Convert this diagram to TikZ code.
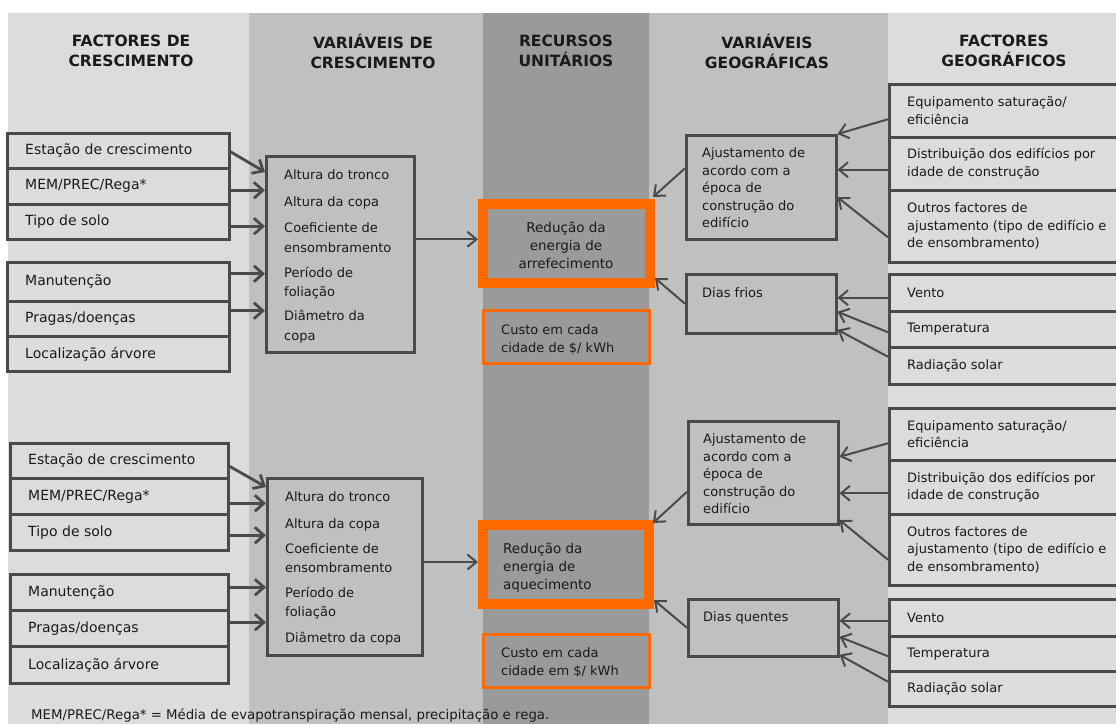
\documentclass[tikz,border=0pt]{standalone}
\usepackage{fontspec}
\setmainfont{DejaVu Sans}
\usetikzlibrary{arrows.meta,calc}
\definecolor{bandL}{HTML}{DCDCDC}
\definecolor{bandM}{HTML}{C0C0C0}
\definecolor{bandD}{HTML}{9A9A9A}
\definecolor{edge}{HTML}{4A4A4A}
\definecolor{orng}{HTML}{FF6A00}
\definecolor{ink}{HTML}{1A1A1A}
\tikzset{
 box/.style={draw=edge, line width=2.5pt, rectangle, inner sep=0pt, anchor=north west},
 lbox/.style={box, fill=bandL},
 mbox/.style={box, fill=bandM},
 obig/.style={draw=orng, line width=10pt, fill=bandD, rectangle, inner sep=0pt, anchor=north west},
 osmall/.style={draw=orng, line width=2.5pt, fill=bandD, rectangle, inner sep=0pt, anchor=north west},
 txt/.style={inner sep=0pt, align=left, text=ink, font=\fontsize{13}{17.5}\selectfont},
 ltxt/.style={txt, font=\fontsize{14}{17.5}\selectfont},
 hdr/.style={inner sep=0pt, align=center, text=ink, font=\bfseries\fontsize{15.5}{20}\selectfont},
 thickarr/.style={draw=edge, line width=2.8pt, -{Straight Barb[length=9pt,width=16pt]}},
 thinarr/.style={draw=edge, line width=2pt, -{Straight Barb[length=9pt,width=15pt]}},
}
\newcommand\rowbox[8]{%
 \node[#1, minimum width=#5pt, minimum height=#6pt] (#2) at (#3,#4) {};
 \node[#7, anchor=west] (#2t) at ([xshift=19pt]#2.west) {#8};}
\begin{document}
\begin{tikzpicture}[x=1pt,y=-1pt]
\useasboundingbox (0,0) rectangle (1116,724);
% bands
\fill[bandL] (8,13) rectangle (249,724);
\fill[bandM] (249,13) rectangle (483,724);
\fill[bandD] (483,13) rectangle (649,724);
\fill[bandM] (649,13) rectangle (888,724);
\fill[bandL] (888,13) rectangle (1116,724);
% headers
\node[hdr] (h1) at (131,51) {FACTORES DE\\CRESCIMENTO};
\node[hdr] (h2) at (373,51) {VARIÁVEIS DE\\CRESCIMENTO};
\node[hdr] (h3) at (566,51) {RECURSOS\\UNITÁRIOS};
\node[hdr] (h4) at (767,51) {VARIÁVEIS\\GEOGRÁFICAS};
\node[hdr] (h5) at (1004,51) {FACTORES\\GEOGRÁFICOS};
% ---------- top half ----------
\rowbox{lbox}{la1}{6}{132}{222}{35}{ltxt}{Estação de crescimento}
\rowbox{lbox}{la2}{6}{167}{222}{36}{ltxt}{MEM/PREC/Rega*}
\rowbox{lbox}{la3}{6}{203}{222}{35}{ltxt}{Tipo de solo}
\rowbox{lbox}{lb1}{6}{261}{222}{39}{ltxt}{Manutenção}
\rowbox{lbox}{lb2}{6}{300}{222}{35}{ltxt}{Pragas/doenças}
\rowbox{lbox}{lb3}{6}{335}{222}{35}{ltxt}{Localização árvore}
\node[mbox, minimum width=148pt, minimum height=196pt] (m1) at (265,155) {};
\node[txt, anchor=north west, font=\fontsize{13}{19.5}\selectfont] (m1t) at (284,169.5)
 {Altura do tronco\\[7.5pt]Altura da copa\\[6.5pt]Coeficiente de\\ensombramento\\[5.5pt]Período de\\foliação\\[4.5pt]Diâmetro da\\copa};
\node[obig, minimum width=167pt, minimum height=79pt] (or1) at (478,199) {};
\node[txt, align=center, font=\fontsize{13.5}{18}\selectfont] (or1t) at (566,245) {Redução da\\energia de\\arrefecimento};
\node[osmall, minimum width=166pt, minimum height=53pt] (cs1) at (482,309) {};
\node[txt, anchor=north west] (cs1t) at (501,324.5) {Custo em cada\\cidade de \$/ kWh};
\node[mbox, minimum width=150pt, minimum height=104pt] (aj1) at (685,134) {};
\node[txt, anchor=north west] (aj1t) at (702,147.5) {Ajustamento de\\acordo com a\\época de\\construção do\\edifício};
\node[mbox, minimum width=150pt, minimum height=59pt] (df1) at (685,273) {};
\node[txt, anchor=north west] (df1t) at (702,287.5) {Dias frios};
\rowbox{lbox}{ra1}{888}{83}{240}{53}{txt}{Equipamento saturação/\\eficiência}
\rowbox{lbox}{ra2}{888}{136}{240}{53}{txt}{Distribuição dos edifícios por\\idade de construção}
\rowbox{lbox}{ra3}{888}{189}{240}{72}{txt}{Outros factores de\\ajustamento (tipo de edifício e\\de ensombramento)}
\rowbox{lbox}{rb1}{888}{273}{240}{37}{txt}{Vento}
\rowbox{lbox}{rb2}{888}{310}{240}{36}{txt}{Temperatura}
\rowbox{lbox}{rb3}{888}{346}{240}{37}{txt}{Radiação solar}
% top arrows
\draw[thickarr] ([yshift=-1pt]la1.east) -- ([yshift=-17pt]m1.north west);
\coordinate (s2) at ([yshift=-4pt]la2.east);
\draw[thickarr] (s2) -- (s2 -| m1.west);
\coordinate (s3) at ([yshift=-4.5pt]la3.east);
\draw[thickarr] (s3) -- (s3 -| m1.west);
\coordinate (s4) at ([yshift=8pt]lb1.east);
\draw[thickarr] (s4) -- (s4 -| m1.west);
\coordinate (s5) at ([yshift=8pt]lb2.east);
\draw[thickarr] (s5) -- (s5 -| m1.west);
\coordinate (s6) at ([yshift=15pt]m1.east);
\draw[thinarr] (s6) -- (s6 -| or1.west);
\draw[thinarr] ([yshift=-8.5pt]ra1.west) -- (aj1.north east);
\coordinate (t2) at ([yshift=-6pt]ra2.west);
\draw[thinarr] (t2) -- (t2 -| aj1.east);
\draw[thinarr] ([yshift=-11pt]ra3.west) -- ([yshift=-10pt]aj1.east);
\coordinate (t4) at ([yshift=-5pt]rb1.west);
\draw[thinarr] (t4) -- (t4 -| df1.east);
\draw[thinarr] ([yshift=-3pt]rb2.west) -- ([yshift=-8pt]df1.east);
\draw[thinarr] ([yshift=9pt]rb3.west) -- ([yshift=-26pt]df1.east);
\draw[thinarr] ([yshift=19pt]aj1.west) -- ([xshift=-2pt,yshift=2pt]or1.north east);
\draw[thinarr] (df1.west) -- ([yshift=-34.5pt]or1.east);
% ---------- bottom half ----------
\rowbox{lbox}{lc1}{9}{442}{218}{35}{ltxt}{Estação de crescimento}
\rowbox{lbox}{lc2}{9}{477}{218}{36}{ltxt}{MEM/PREC/Rega*}
\rowbox{lbox}{lc3}{9}{513}{218}{36}{ltxt}{Tipo de solo}
\rowbox{lbox}{ld1}{9}{573}{218}{36}{ltxt}{Manutenção}
\rowbox{lbox}{ld2}{9}{609}{218}{36}{ltxt}{Pragas/doenças}
\rowbox{lbox}{ld3}{9}{645}{218}{37}{ltxt}{Localização árvore}
\node[mbox, minimum width=155pt, minimum height=177pt] (m2) at (266,477) {};
\node[txt, anchor=north west, font=\fontsize{13}{19}\selectfont] (m2t) at (285,491.5)
 {Altura do tronco\\[8pt]Altura da copa\\[6pt]Coeficiente de\\ensombramento\\[6pt]Período de\\foliação\\[7pt]Diâmetro da copa};
\node[obig, minimum width=166pt, minimum height=79pt] (or2) at (478,520) {};
\node[txt, anchor=north west, font=\fontsize{13.5}{18}\selectfont] (or2t) at (503,542.5) {Redução da\\energia de\\aquecimento};
\node[osmall, minimum width=166pt, minimum height=53pt] (cs2) at (482,633) {};
\node[txt, anchor=north west] (cs2t) at (501,647.5) {Custo em cada\\cidade em \$/ kWh};
\node[mbox, minimum width=150pt, minimum height=103pt] (aj2) at (687,420) {};
\node[txt, anchor=north west] (aj2t) at (703,433.5) {Ajustamento de\\acordo com a\\época de\\construção do\\edifício};
\node[mbox, minimum width=150pt, minimum height=57pt] (dq2) at (687,598) {};
\node[txt, anchor=north west] (dq2t) at (703,611.5) {Dias quentes};
\rowbox{lbox}{rc1}{888}{407}{240}{52}{txt}{Equipamento saturação/\\eficiência}
\rowbox{lbox}{rc2}{888}{459}{240}{54}{txt}{Distribuição dos edifícios por\\idade de construção}
\rowbox{lbox}{rc3}{888}{513}{240}{71}{txt}{Outros factores de\\ajustamento (tipo de edifício e\\de ensombramento)}
\rowbox{lbox}{rd1}{888}{598}{240}{37}{txt}{Vento}
\rowbox{lbox}{rd2}{888}{635}{240}{35}{txt}{Temperatura}
\rowbox{lbox}{rd3}{888}{670}{240}{35}{txt}{Radiação solar}
% bottom arrows
\draw[thickarr] ([yshift=-5.5pt]lc1.east) -- ([yshift=-10pt]m2.north west);
\coordinate (u2) at ([yshift=-7pt]lc2.east);
\draw[thickarr] (u2) -- (u2 -| m2.west);
\coordinate (u3) at ([yshift=-3pt]lc3.east);
\draw[thickarr] (u3) -- (u3 -| m2.west);
\coordinate (u4) at ([yshift=5pt]ld1.east);
\draw[thickarr] (u4) -- (u4 -| m2.west);
\coordinate (u5) at ([yshift=6pt]ld2.east);
\draw[thickarr] (u5) -- (u5 -| m2.west);
\coordinate (u6) at ([yshift=4.75pt]m2.east);
\draw[thinarr] (u6) -- (u6 -| or2.west);
\draw[thinarr] ([yshift=-9pt]rc1.west) -- ([yshift=16pt]aj2.east);
\coordinate (v2) at ([yshift=-6pt]rc2.west);
\draw[thinarr] (v2) -- (v2 -| aj2.east);
\draw[thinarr] ([yshift=-10pt]rc3.west) -- ([yshift=5.5pt]aj2.south east);
\coordinate (v4) at ([yshift=-3pt]rd1.west);
\draw[thinarr] (v4) -- (v4 -| dq2.east);
\draw[thinarr] ([yshift=-2.5pt]rd2.west) -- ([yshift=-9pt]dq2.east);
\draw[thinarr] ([yshift=7pt]rd3.west) -- ([yshift=-27pt]dq2.east);
\draw[thinarr] ([yshift=-19pt]aj2.west) -- ([xshift=-1pt,yshift=-3pt]or2.north east);
\draw[thinarr] (dq2.west) -- ([yshift=-35.5pt]or2.east);
% footnote
\node[txt, anchor=west, font=\fontsize{13.3}{16}\selectfont] (fn) at (31,716) {MEM/PREC/Rega* = Média de evapotranspiração mensal, precipitação e rega.};
\end{tikzpicture}
\end{document}
